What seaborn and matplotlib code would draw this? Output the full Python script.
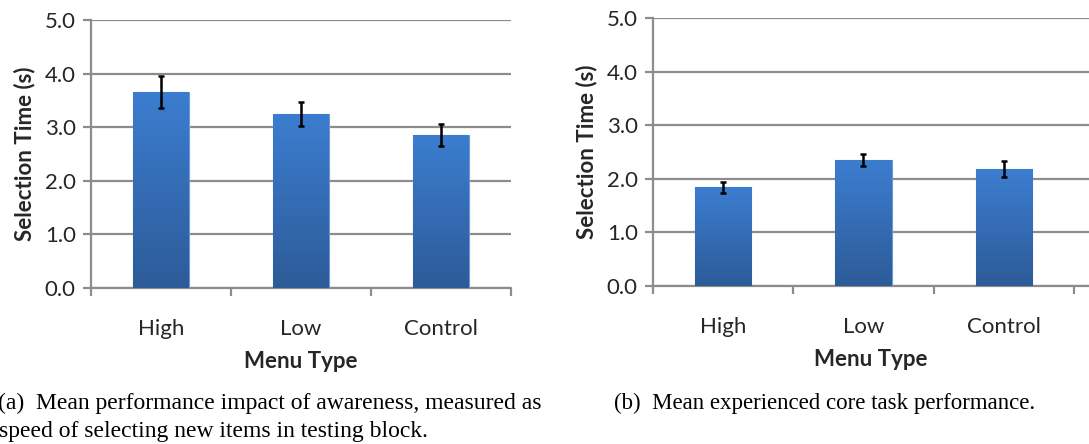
import numpy as np
import pandas as pd
import matplotlib
matplotlib.use("Agg")
import matplotlib.pyplot as plt
import seaborn as sns
from matplotlib.colors import LinearSegmentedColormap

# Mean selection times (s) and error-bar half-lengths per menu type
menu_types = ["High", "Low", "Control"]
awareness_means = [3.66, 3.25, 2.85]
awareness_err = [0.30, 0.22, 0.21]
core_means = [1.84, 2.35, 2.18]
core_err = [0.10, 0.12, 0.145]

y_ticks = [0.0, 1.0, 2.0, 3.0, 4.0, 5.0]
caption_a = ["(a)  Mean performance impact of awareness, measured as",
             "speed of selecting new items in testing block."]
caption_b = "(b)  Mean experienced core task performance."

sns.set_theme(style="white")
plt.rcParams["font.family"] = ["Lato", "DejaVu Sans"]

W, H = 1089, 444
fig = plt.figure(figsize=(W / 100, H / 100), dpi=100)

grid_col = "#8c8c8c"
text_col = "#262626"
bar_cmap = LinearSegmentedColormap.from_list("bar", ["#2d5b98", "#3c7dd0"])


def px_axes(left, top, right, bottom):
    return fig.add_axes([left / W, 1 - bottom / H, (right - left) / W, (bottom - top) / H])


def draw_panel(ax, means, errs, xmax):
    df = pd.DataFrame({"Menu Type": menu_types, "Selection Time (s)": means})
    sns.barplot(data=df, x="Menu Type", y="Selection Time (s)", width=0.4,
                errorbar=None, ax=ax, zorder=3)
    grad = np.linspace(0, 1, 256).reshape(-1, 1)
    for patch in ax.patches:
        x0, y0 = patch.get_x(), patch.get_y()
        w, h = patch.get_width(), patch.get_height()
        im = ax.imshow(grad, cmap=bar_cmap, origin="lower", aspect="auto",
                       extent=[x0, x0 + w, y0, y0 + h], zorder=3)
        im.set_clip_path(patch)
        patch.set_facecolor("none")
        patch.set_edgecolor("#6a9ad8")
        patch.set_linewidth(0.8)
    ax.errorbar(range(len(means)), means, yerr=errs, fmt="none", ecolor="black",
                elinewidth=1.8, capsize=2.5, capthick=1.8, zorder=5)

    ax.set_xlim(-0.5, xmax)
    ax.set_ylim(0, 5.0)
    ax.set_yticks(y_ticks)
    ax.set_yticklabels([f"{t:.1f}" for t in y_ticks])
    ax.set_xticks(range(len(menu_types)))
    ax.set_xticklabels(menu_types)
    ax.set_xticks([-0.5, 0.5, 1.5, 2.5], minor=True)

    ax.yaxis.grid(True, color=grid_col, linewidth=1.6, zorder=1)
    ax.set_axisbelow(True)
    for s in ["top", "right", "bottom"]:
        ax.spines[s].set_visible(False)
    ax.spines["left"].set_color(grid_col)
    ax.spines["left"].set_linewidth(1.6)
    ax.axhline(0, color=grid_col, linewidth=1.6, zorder=2, clip_on=False)

    ax.tick_params(axis="y", which="major", direction="out", length=6, width=1.6,
                   color=grid_col, left=True, labelsize=16, labelcolor=text_col, pad=5)
    ax.tick_params(axis="x", which="major", length=0, labelsize=16,
                   labelcolor=text_col, pad=22)
    ax.tick_params(axis="x", which="minor", direction="out", length=6, width=1.6,
                   color=grid_col, bottom=True)

    ax.set_xlabel("Menu Type", fontsize=16, fontweight="bold", color=text_col, labelpad=9)
    ax.set_ylabel("Selection Time (s)", fontsize=16, fontweight="bold",
                  color=text_col, labelpad=7)


ax1 = px_axes(91, 20, 511, 288)
draw_panel(ax1, awareness_means, awareness_err, 2.5)

ax2 = px_axes(653, 18, 1089, 286)
draw_panel(ax2, core_means, core_err, 2.5 + 15 / 140)

serif = ["Liberation Serif", "DejaVu Serif"]
fig.text(-2 / W, 1 - 403 / H, caption_a[0], family=serif, fontsize=17,
         color="black", va="center", ha="left")
fig.text(-1 / W, 1 - 431 / H, caption_a[1], family=serif, fontsize=17,
         color="black", va="center", ha="left")
fig.text(825 / W, 1 - 403 / H, caption_b, family=serif, fontsize=16.5,
         color="black", va="center", ha="center")

fig.savefig("out.png", dpi=100)
